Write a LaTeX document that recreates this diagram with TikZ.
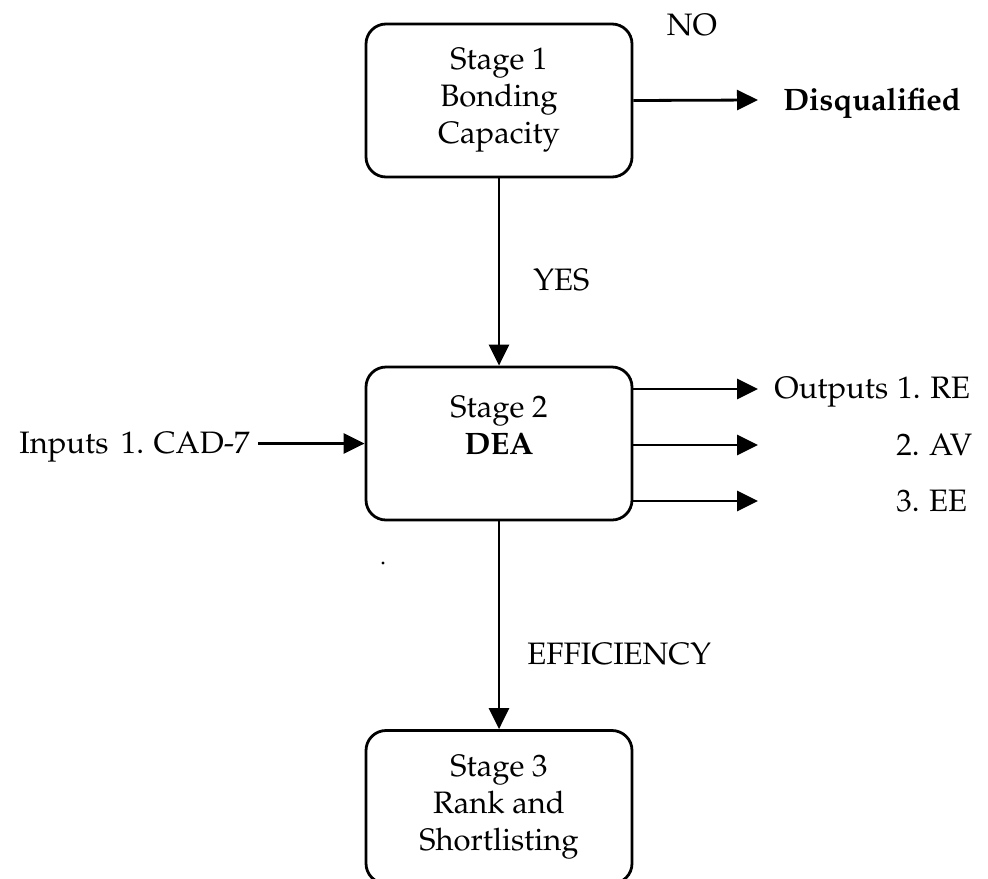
\documentclass[tikz,border=0pt]{standalone}
\usepackage[T1]{fontenc}
\usepackage{mathpazo}
\usetikzlibrary{arrows.meta}
\begin{document}
\begin{tikzpicture}[x=0.5pt,y=-0.5pt,
  every node/.style={font=\fontsize{15.5}{18.5}\selectfont},
  stagebox/.style={draw, line width=1.4pt, rounded corners=10pt,
    minimum width=133pt, minimum height=76.5pt, align=center, inner sep=0pt},
  arr/.style={line width=1.4pt, -{Triangle[length=10.5pt,width=10pt]}},
  lbl/.style={inner sep=0pt}]
\useasboundingbox (0,0) rectangle (988,878);
% boxes
\node[stagebox] (s1) at (499,100.5) {Stage 1\\Bonding\\Capacity};
\node[stagebox] (s2) at (499,443.5) {Stage 2\\\textbf{DEA}\\\mbox{}};
\node[stagebox] (s3) at (499,807) {Stage 3\\Rank and\\Shortlisting};
% labels
\node[lbl, anchor=base] (no) at (692,35) {NO};
\node[lbl, anchor=base west] (dq) at (783,110) {\textbf{Disqualified}};
\node[lbl, anchor=base west] (yes) at (533,290) {YES};
\node[lbl, anchor=base west] (eff) at (527,664) {EFFICIENCY};
\node[lbl, anchor=base east] (inp) at (250,453) {Inputs\hspace{0.4em}1. CAD-7};
\node[lbl, anchor=base west] (out1) at (774,398) {Outputs\hspace{0.3em}1. RE};
\node[lbl, anchor=base west] (out2) at (896,455) {2. AV};
\node[lbl, anchor=base west] (out3) at (896,511) {3. EE};
% free ends
\coordinate (dqtip) at (758,100);
\coordinate (intail) at (258,443.5);
\coordinate (o1) at (758,389);
\coordinate (o2) at (758,445);
\coordinate (o3) at (758,501);
% connectors
\draw[arr] (s1.east) -- (dqtip);
\draw[arr] (s1.south) -- (s2.north);
\draw[arr] (s2.south) -- (s3.north);
\draw[arr] (intail) -- (s2.west);
\draw[arr] (s2.east |- o1) -- (o1);
\draw[arr] (s2.east |- o2) -- (o2);
\draw[arr] (s2.east |- o3) -- (o3);
% stray dot in the scan
\fill (383,563) circle (0.8pt);
\end{tikzpicture}
\end{document}
